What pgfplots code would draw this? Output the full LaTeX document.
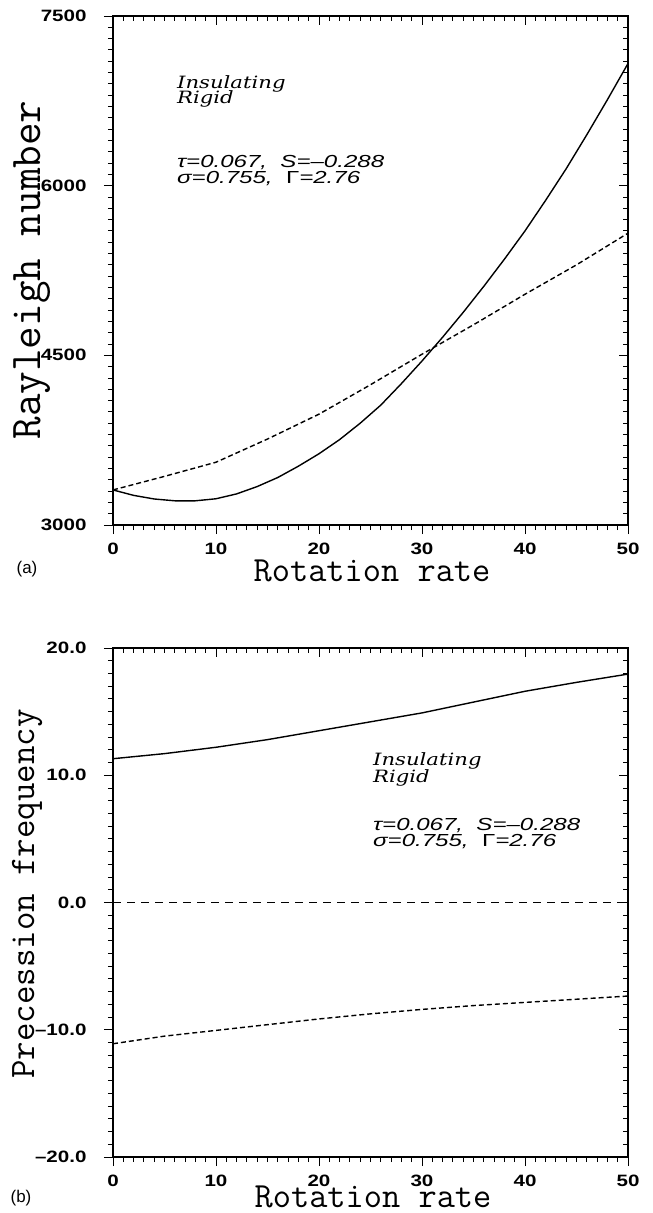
\documentclass[border=0pt]{standalone}
\usepackage{fontspec}
\usepackage{pgfplots}
\pgfplotsset{compat=1.18}
\newfontfamily\tickfont[FakeStretch=1.25]{Liberation Sans Bold}
\newfontfamily\annfont[FakeStretch=1.25]{DejaVu Serif}
\newfontfamily\parfont[FakeStretch=1.38]{Liberation Sans}
\newfontfamily\panfont{Liberation Sans}

\pgfplotstableread{
x y
0 3310
2 3262
4 3230
6 3214
8 3214
10 3232
12 3275
14 3340
16 3420
18 3520
20 3630
22 3755
24 3900
26 4060
28 4250
30 4450
32 4660
34 4880
36 5110
38 5350
40 5600
42 5870
44 6150
46 6450
48 6760
50 7080
}\topsolid
\pgfplotstableread{
x y
0 3310
5 3430
10 3555
15 3760
20 3980
25 4240
30 4510
35 4770
40 5040
45 5300
50 5580
}\topdashed
\pgfplotstableread{
x y
0 11.3
5 11.7
10 12.2
15 12.8
20 13.5
25 14.2
30 14.9
35 15.75
40 16.6
45 17.3
50 17.95
}\botsolid
\pgfplotstableread{
x y
0 -11.1
5 -10.5
10 -10.05
15 -9.6
20 -9.15
25 -8.75
30 -8.4
35 -8.1
40 -7.85
45 -7.6
50 -7.35
}\botdashed

\pgfplotsset{
  common/.style={
    width=515bp, height=509bp, scale only axis,
    xmin=0, xmax=50,
    xtick={0,10,20,30,40,50},
    minor x tick num=9,
    axis line style={line width=1.1bp},
    every tick/.style={black, line width=0.9bp},
    major tick length=9bp, minor tick length=5bp,
    tick label style={font=\tickfont\fontsize{16.5}{16.5}\selectfont},
  },
  lowerticks/.style={
    tick align=outside, xtick pos=left, ytick pos=left,
    xticklabels={0,10,20,30,40,50},
    xticklabel style={yshift=-5bp},
    yticklabel style={xshift=-14bp},
  },
  upperticks/.style={
    tick align=inside, xtick pos=right, ytick pos=right,
    xticklabels={}, yticklabels={},
  },
}

\begin{document}
\begin{tikzpicture}
\path[use as bounding box] (0,0) rectangle (653bp,-1213bp);

% ---------- panel (a)
\begin{axis}[common, lowerticks, at={(113bp,-525bp)}, anchor=south west,
  ymin=3000, ymax=7500, ytick={3000,4500,6000,7500}, minor y tick num=14,
  yticklabels={3000,4500,6000,7500}]
\addplot[black, line width=1.4bp] table {\topsolid};
\addplot[black, line width=1.4bp, dash pattern=on 5bp off 3bp] table {\topdashed};
\end{axis}
\begin{axis}[common, upperticks, at={(113bp,-525bp)}, anchor=south west,
  ymin=3000, ymax=7500, ytick={3000,4500,6000,7500}, minor y tick num=14]
\end{axis}

% ---------- panel (b)
\begin{axis}[common, lowerticks, at={(113bp,-1157bp)}, anchor=south west,
  ymin=-20, ymax=20, ytick={-20,-10,0,10,20}, minor y tick num=9,
  yticklabels={{\textendash20.0},{\textendash10.0},0.0,10.0,20.0}]
\addplot[black, line width=1.4bp] table {\botsolid};
\addplot[black, line width=1.4bp, dash pattern=on 5bp off 3bp] table {\botdashed};
\addplot[black, line width=1.2bp, dash pattern=on 8bp off 6bp] coordinates {(0,0) (50,0)};
\end{axis}
\begin{axis}[common, upperticks, at={(113bp,-1157bp)}, anchor=south west,
  ymin=-20, ymax=20, ytick={-20,-10,0,10,20}, minor y tick num=9]
\end{axis}

% ---------- labels
\node[anchor=base, inner sep=0] at (372bp,-581bp) {\ttfamily\fontsize{35.5}{35.5}\selectfont Rotation rate};
\node[anchor=base, inner sep=0] at (373bp,-1207bp) {\ttfamily\fontsize{35.5}{35.5}\selectfont Rotation rate};
\node[anchor=base, rotate=90, inner sep=0] at (40bp,-270bp) {\ttfamily\fontsize{44}{44}\selectfont Rayleigh number};
\node[anchor=base, rotate=90, inner sep=0] at (34bp,-894bp) {\ttfamily\fontsize{36}{36}\selectfont Precession frequency};

\node[anchor=center, inner sep=0] at (27bp,-569bp) {\panfont\fontsize{17}{17}\selectfont (a)};
\node[anchor=center, inner sep=0] at (21bp,-1198bp) {\panfont\fontsize{17}{17}\selectfont (b)};

% annotations (a)
\node[anchor=base west, inner sep=0] at (177bp,-88bp) {\annfont\itshape\fontsize{17}{17}\selectfont Insulating};
\node[anchor=base west, inner sep=0] at (177bp,-103bp) {\annfont\itshape\fontsize{17}{17}\selectfont Rigid};
\node[anchor=base west, inner sep=0] at (177bp,-167bp) {\parfont\itshape\fontsize{17.5}{17.5}\selectfont τ=0.067,\ \ S=\textendash0.288};
\node[anchor=base west, inner sep=0] at (177bp,-183bp) {\parfont\itshape\fontsize{17.5}{17.5}\selectfont σ=0.755,\ \ {\upshape Γ}=2.76};

% annotations (b)
\node[anchor=base west, inner sep=0] at (373bp,-765bp) {\annfont\itshape\fontsize{17}{17}\selectfont Insulating};
\node[anchor=base west, inner sep=0] at (373bp,-782bp) {\annfont\itshape\fontsize{17}{17}\selectfont Rigid};
\node[anchor=base west, inner sep=0] at (373bp,-830bp) {\parfont\itshape\fontsize{17.5}{17.5}\selectfont τ=0.067,\ \ S=\textendash0.288};
\node[anchor=base west, inner sep=0] at (373bp,-846bp) {\parfont\itshape\fontsize{17.5}{17.5}\selectfont σ=0.755,\ \ {\upshape Γ}=2.76};
\end{tikzpicture}
\end{document}
